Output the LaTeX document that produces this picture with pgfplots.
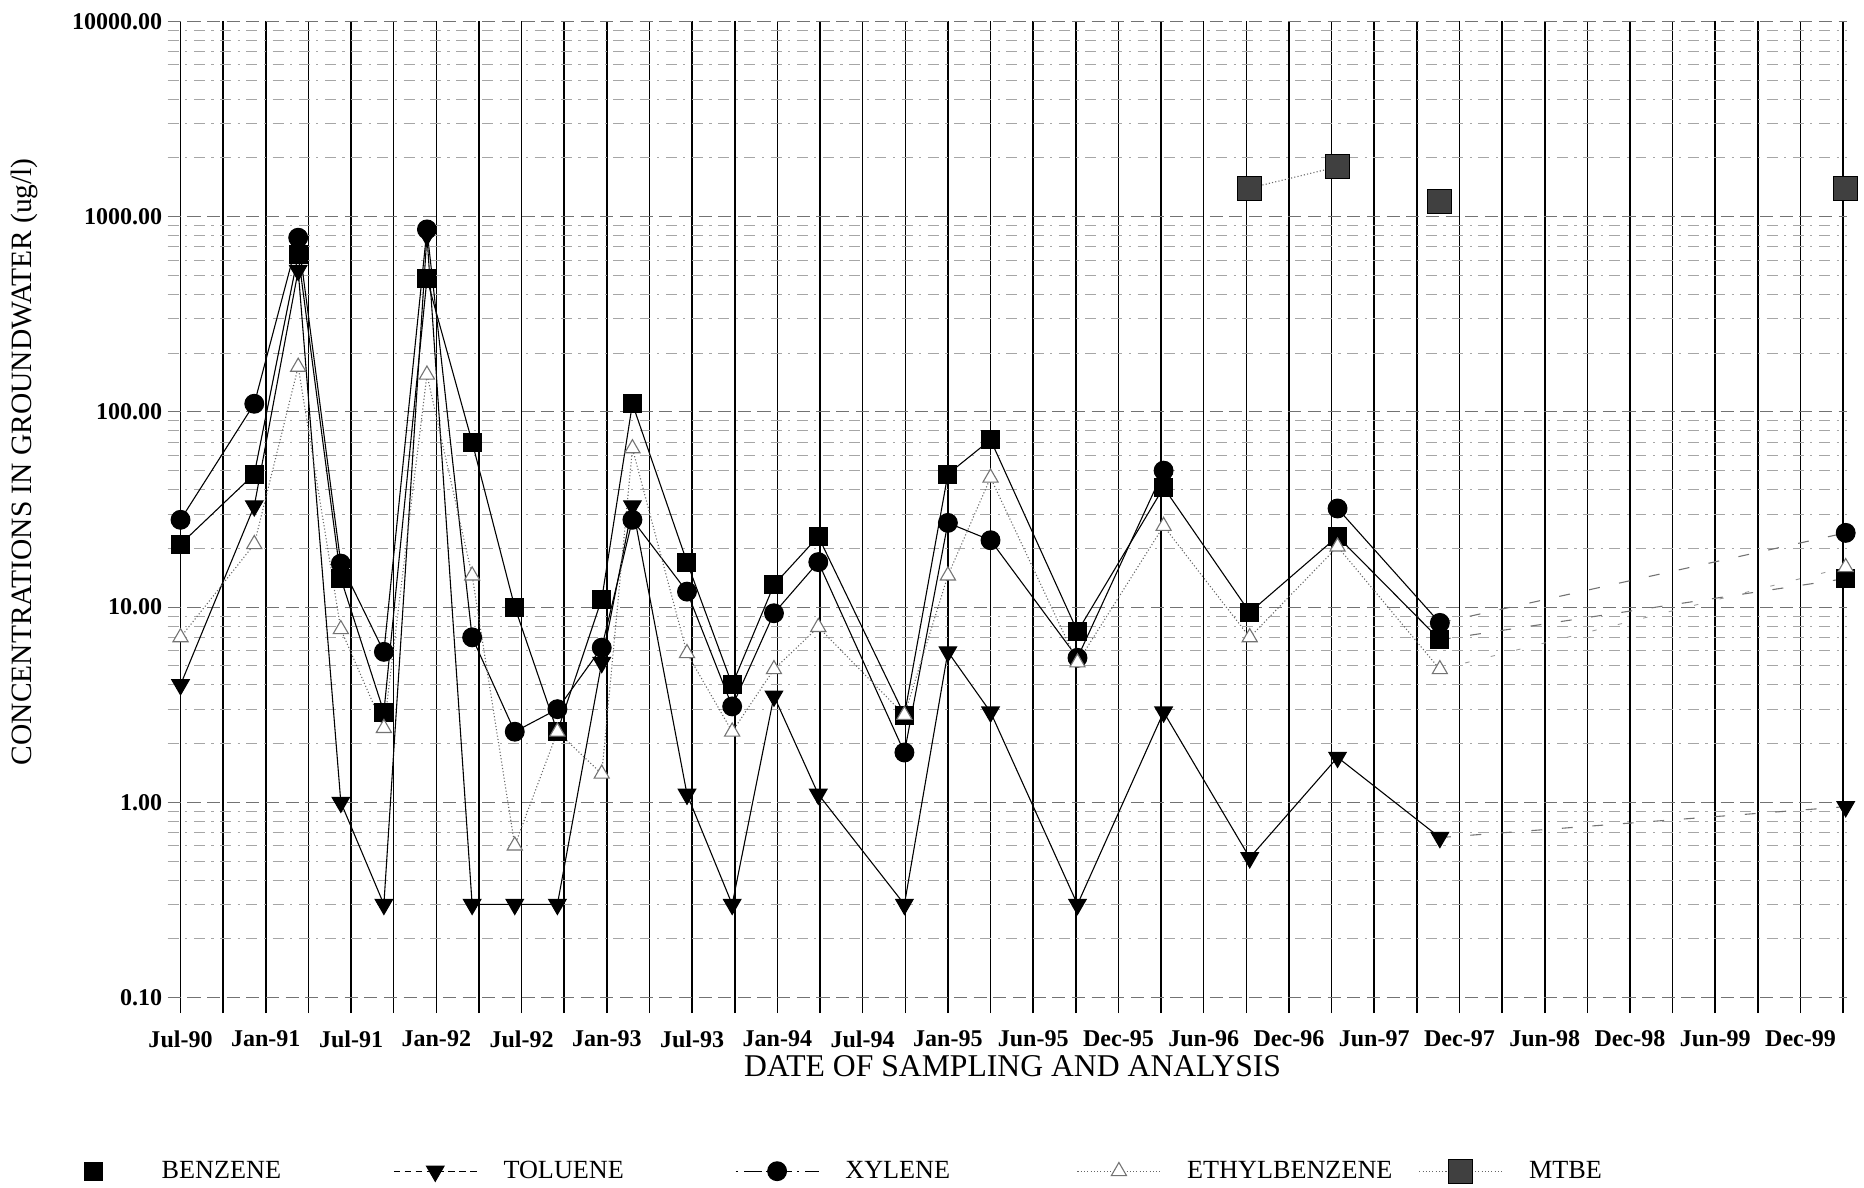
\documentclass[border=0pt]{standalone}
\usepackage{pgfplots}
\pgfplotsset{compat=1.18}
\usepackage{pgfplotstable}
\usepackage{fontspec}
\setmainfont{Liberation Serif}

% legend image with the mark only, same width as the line images
\pgfplotsset{markonly legend/.style={legend image code/.code={%
    \path (0pt,0pt) (38pt,0pt);
    \draw[##1] plot coordinates {(19pt,0pt)};}}}

% x = half-year index (0 = Jul-90, 1 = Jan-91, ...)
% the nan row breaks the line before the last (Dec-99) sample, which is joined by a faint tail
\pgfplotstableread{
k v
0 21
0.865 48
1.38 640
1.88 14
2.385 2.9
2.89 480
3.42 70
3.92 10
4.42 2.3
4.94 11
5.30 110
5.94 17
6.47 4.0
6.96 13
7.48 23
8.49 2.8
9.0 48
9.50 72
10.52 7.5
11.53 41
12.54 9.4
13.57 23
14.77 6.8
15.0 nan
19.53 14
}\benzene

\pgfplotstableread{
k v
0 4.0
0.865 33
1.38 530
1.88 1.0
2.385 0.3
2.89 800
3.42 0.3
3.92 0.3
4.42 0.3
4.94 5.2
5.30 33
5.94 1.1
6.47 0.3
6.96 3.5
7.48 1.1
8.49 0.3
9.0 5.9
9.50 2.9
10.52 0.3
11.53 2.9
12.54 0.52
13.57 1.7
14.77 0.66
15.0 nan
19.53 0.95
}\toluene

\pgfplotstableread{
k v
0 28
0.865 110
1.38 780
1.88 16.7
2.385 5.9
2.89 860
3.42 7.0
3.92 2.3
4.42 3.0
4.94 6.2
5.30 28
5.94 12
6.47 3.1
6.96 9.3
7.48 17
8.49 1.8
9.0 27
9.50 22
10.52 5.5
11.53 50
12.54 nan
13.57 32
14.77 8.3
15.0 nan
19.53 24
}\xylene

\pgfplotstableread{
k v
0 7.0
0.865 21
1.38 170
1.88 7.7
2.385 2.4
2.89 155
3.42 14.5
3.92 0.6
4.42 2.3
4.94 1.4
5.30 65
5.94 5.8
6.47 2.3
6.96 4.8
7.48 7.9
8.49 2.8
9.0 14.5
9.50 46
10.52 5.2
11.53 26
12.54 7.0
13.57 20.4
14.77 4.8
15.0 nan
19.53 16
}\ethyl

\pgfplotstableread{
k v
12.54 1400
13.57 1800
14.0 nan
14.77 1200
15.0 nan
19.53 1400
}\mtbe

\begin{document}
\begin{tikzpicture}
\begin{axis}[
    name=ax,
    scale only axis,
    width=769pt, height=454pt,
    ymode=log,
    xmin=-0.15, xmax=19.55,
    ymin=0.0833, ymax=10000,
    clip=false,
    unbounded coords=jump,
    axis line style={draw=none},
    xtick={0,...,19},
    xticklabels={Jul-90,Jan-91,Jul-91,Jan-92,Jul-92,Jan-93,Jul-93,Jan-94,Jul-94,Jan-95,
                 Jun-95,Dec-95,Jun-96,Dec-96,Jun-97,Dec-97,Jun-98,Dec-98,Jun-99,Dec-99},
    minor xtick={0.5,1.5,...,19.5},
    ytick={0.1,1,10,100,1000,10000},
    yticklabels={0.10,1.00,10.00,100.00,1000.00,10000.00},
    minor ytick={0.2,0.3,0.4,0.5,0.6,0.7,0.8,0.9,2,3,4,5,6,7,8,9,20,30,40,50,60,70,80,90,
                 200,300,400,500,600,700,800,900,2000,3000,4000,5000,6000,7000,8000,9000},
    xmajorgrids, xminorgrids, ymajorgrids, yminorgrids,
    major x grid style={black, line width=0.7pt},
    minor x grid style={black, line width=0.7pt},
    major y grid style={black!55, line width=0.5pt, dash pattern=on 6pt off 3pt},
    minor y grid style={black!35, line width=0.4pt, dash pattern=on 5pt off 3pt on 1pt off 3pt},
    major tick length=0pt,
    minor tick length=0pt,
    ticklabel style={font=\fontsize{11}{13}\selectfont\bfseries},
    xticklabel style={yshift=-4.5pt},
    yticklabel style={xshift=1pt},
    xlabel={DATE OF SAMPLING AND ANALYSIS},
    xlabel style={at={(axis description cs:0.503,-0.054)}, anchor=center,
                  font=\fontsize{14.5}{16}\selectfont},
    ylabel={CONCENTRATIONS IN GROUNDWATER (ug/l)},
    ylabel style={at={(axis description cs:-0.0856,0.556)}, anchor=center,
                  font=\fontsize{13.5}{15}\selectfont},
    legend columns=5,
    legend image code/.code={
        \draw[mark repeat=2,mark phase=2,#1] plot coordinates {(0pt,0pt) (19pt,0pt) (38pt,0pt)};},
    legend style={draw=none, fill=none, inner sep=0pt,
                  at={(-0.0694,-0.1595)}, anchor=west,
                  font=\fontsize{12}{14}\selectfont,
                  /tikz/every odd column/.append style={column sep=10pt}},
]
\addlegendimage{markonly legend, mark=square*, mark size=4.1pt, black}
\addlegendentry{\makebox[104pt][l]{BENZENE}}
\addlegendimage{black, line width=0.5pt, densely dashed, mark=triangle*, mark size=4.6pt,
                mark options={solid, rotate=180, fill=black}}
\addlegendentry{\makebox[104pt][l]{TOLUENE}}
\addlegendimage{black, line width=0.5pt, dash pattern=on 1pt off 3pt on 8pt off 2pt, mark=*, mark size=4.3pt,
                mark options={solid, fill=black}}
\addlegendentry{\makebox[104pt][l]{XYLENE}}
\addlegendimage{black!60, line width=0.5pt, densely dotted, mark=triangle*, mark size=4pt,
                mark options={solid, fill=white, draw=black!55}}
\addlegendentry{\makebox[104pt][l]{ETHYLBENZENE}}
\addlegendimage{black!60, line width=0.5pt, densely dotted, mark=square*, mark size=5.5pt,
                mark options={solid, fill=black!75, draw=black}}
\addlegendentry{MTBE}

% faint tails from Dec-97 to Dec-99
\addplot[forget plot, black!55, line width=0.5pt, dash pattern=on 5pt off 9pt]
    coordinates {(14.77,6.8) (19.53,14)};
\addplot[forget plot, black!55, line width=0.5pt, dash pattern=on 5pt off 9pt]
    coordinates {(14.77,0.66) (19.53,0.95)};
\addplot[forget plot, black!55, line width=0.5pt, dash pattern=on 5pt off 9pt]
    coordinates {(14.77,8.3) (19.53,24)};
\addplot[forget plot, black!40, line width=0.4pt, dash pattern=on 2pt off 10pt]
    coordinates {(14.77,4.8) (19.53,16)};

\addplot[forget plot, black, line width=0.5pt, mark=square*, mark size=4.1pt,
         mark options={fill=black}] table[x=k, y=v] {\benzene};
\addplot[forget plot, black, line width=0.5pt, mark=triangle*, mark size=4.6pt,
         mark options={rotate=180, fill=black}] table[x=k, y=v] {\toluene};
\addplot[forget plot, black, line width=0.5pt, mark=*, mark size=4.3pt,
         mark options={fill=black}] table[x=k, y=v] {\xylene};
\addplot[forget plot, black!60, line width=0.5pt, densely dotted, mark=triangle*, mark size=4pt,
         mark options={solid, fill=white, draw=black!55}] table[x=k, y=v] {\ethyl};
\addplot[forget plot, black!60, line width=0.5pt, densely dotted, mark=square*, mark size=5.5pt,
         mark options={solid, fill=black!75, draw=black}] table[x=k, y=v] {\mtbe};
\end{axis}
\pgfresetboundingbox
\path ([shift={(-76.8pt,-80pt)}]ax.south west) rectangle ([shift={(7.6pt,9.8pt)}]ax.north east);
\end{tikzpicture}
\end{document}
